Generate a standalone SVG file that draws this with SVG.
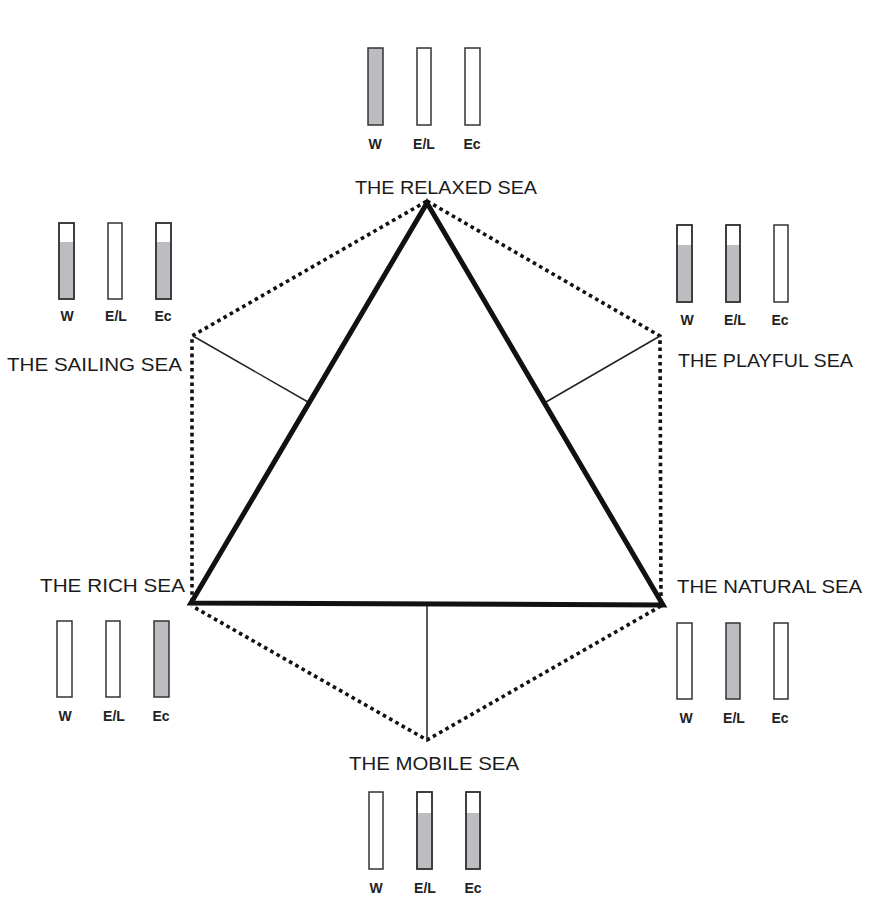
<svg xmlns="http://www.w3.org/2000/svg" width="874" height="901" viewBox="0 0 874 901">
<style>
.bar{fill:#ffffff;stroke:#333333;stroke-width:1.5}
.fill{fill:#bcbdc1;stroke:none}
.lbl{font-family:"Liberation Sans",Arial,sans-serif;font-weight:bold;font-size:14px;fill:#222222;text-anchor:middle}
.title{font-family:"Liberation Sans",Arial,sans-serif;font-size:18px;fill:#1a1a1a}
.dot{fill:none;stroke:#111111;stroke-width:3.6;stroke-dasharray:3.6 3.6}
.thin{fill:none;stroke:#222222;stroke-width:1.5}
.tri{fill:none;stroke:#111111;stroke-width:5;stroke-linejoin:miter;stroke-miterlimit:20}
</style>
<rect width="874" height="901" fill="#ffffff"/>
<g id="connectors">
<polyline class="dot" points="427,201 660,336 661,604"/>
<polyline class="dot" points="661,606 427,740 192,606"/>
<polyline class="dot" points="192,602 192,336 427,201"/>
<line class="thin" x1="193" y1="336" x2="308" y2="402"/>
<line class="thin" x1="660" y1="336" x2="546" y2="402"/>
<line class="thin" x1="427" y1="604" x2="427" y2="740"/>
<polygon class="tri" points="427,203 663,605 191,603"/>
</g>
<g id="relaxed">
<text class="title" x="355" y="194" textLength="182" lengthAdjust="spacingAndGlyphs">THE RELAXED SEA</text>
<rect class="bar" x="368" y="48" width="15" height="77" style="fill:#bcbdc1"/>
<rect class="bar" x="417" y="48" width="14" height="77"/>
<rect class="bar" x="465" y="48" width="15" height="77"/>
<text class="lbl" x="375" y="149">W</text>
<text class="lbl" x="424" y="149">E/L</text>
<text class="lbl" x="472" y="149">Ec</text>
</g>
<g id="sailing">
<text class="title" x="7" y="371" textLength="175" lengthAdjust="spacingAndGlyphs">THE SAILING SEA</text>
<rect class="bar" x="59" y="223" width="15" height="76"/>
<rect class="fill" x="60" y="242" width="13" height="56"/>
<rect class="bar" x="59" y="223" width="15" height="76" style="fill:none"/>
<rect class="bar" x="108" y="223" width="14" height="76"/>
<rect class="bar" x="156" y="223" width="15" height="76"/>
<rect class="fill" x="157" y="242" width="13" height="56"/>
<rect class="bar" x="156" y="223" width="15" height="76" style="fill:none"/>
<text class="lbl" x="67" y="321">W</text>
<text class="lbl" x="116" y="321">E/L</text>
<text class="lbl" x="163" y="321">Ec</text>
</g>
<g id="playful">
<text class="title" x="678" y="367" textLength="175" lengthAdjust="spacingAndGlyphs">THE PLAYFUL SEA</text>
<rect class="bar" x="677" y="225" width="15" height="77"/>
<rect class="fill" x="678" y="245" width="13" height="56"/>
<rect class="bar" x="677" y="225" width="15" height="77" style="fill:none"/>
<rect class="bar" x="726" y="225" width="14" height="77"/>
<rect class="fill" x="727" y="245" width="12" height="56"/>
<rect class="bar" x="726" y="225" width="14" height="77" style="fill:none"/>
<rect class="bar" x="774" y="225" width="14" height="77"/>
<text class="lbl" x="687" y="325">W</text>
<text class="lbl" x="735" y="325">E/L</text>
<text class="lbl" x="780" y="325">Ec</text>
</g>
<g id="rich">
<text class="title" x="40" y="592" textLength="145" lengthAdjust="spacingAndGlyphs">THE RICH SEA</text>
<rect class="bar" x="57" y="621" width="15" height="76"/>
<rect class="bar" x="106" y="621" width="14" height="76"/>
<rect class="bar" x="154" y="621" width="15" height="76" style="fill:#bcbdc1"/>
<text class="lbl" x="65" y="721">W</text>
<text class="lbl" x="114" y="721">E/L</text>
<text class="lbl" x="161" y="721">Ec</text>
</g>
<g id="natural">
<text class="title" x="677" y="593" textLength="185" lengthAdjust="spacingAndGlyphs">THE NATURAL SEA</text>
<rect class="bar" x="677" y="623" width="15" height="76"/>
<rect class="bar" x="726" y="623" width="14" height="76" style="fill:#bcbdc1"/>
<rect class="bar" x="774" y="623" width="14" height="76"/>
<text class="lbl" x="686" y="723">W</text>
<text class="lbl" x="734" y="723">E/L</text>
<text class="lbl" x="780" y="723">Ec</text>
</g>
<g id="mobile">
<text class="title" x="349" y="770" textLength="170" lengthAdjust="spacingAndGlyphs">THE MOBILE SEA</text>
<rect class="bar" x="369" y="792" width="14" height="77"/>
<rect class="bar" x="417" y="792" width="15" height="77"/>
<rect class="fill" x="418" y="813" width="13" height="55"/>
<rect class="bar" x="417" y="792" width="15" height="77" style="fill:none"/>
<rect class="bar" x="466" y="792" width="14" height="77"/>
<rect class="fill" x="467" y="813" width="12" height="55"/>
<rect class="bar" x="466" y="792" width="14" height="77" style="fill:none"/>
<text class="lbl" x="376" y="893">W</text>
<text class="lbl" x="425" y="893">E/L</text>
<text class="lbl" x="473" y="893">Ec</text>
</g>
</svg>
